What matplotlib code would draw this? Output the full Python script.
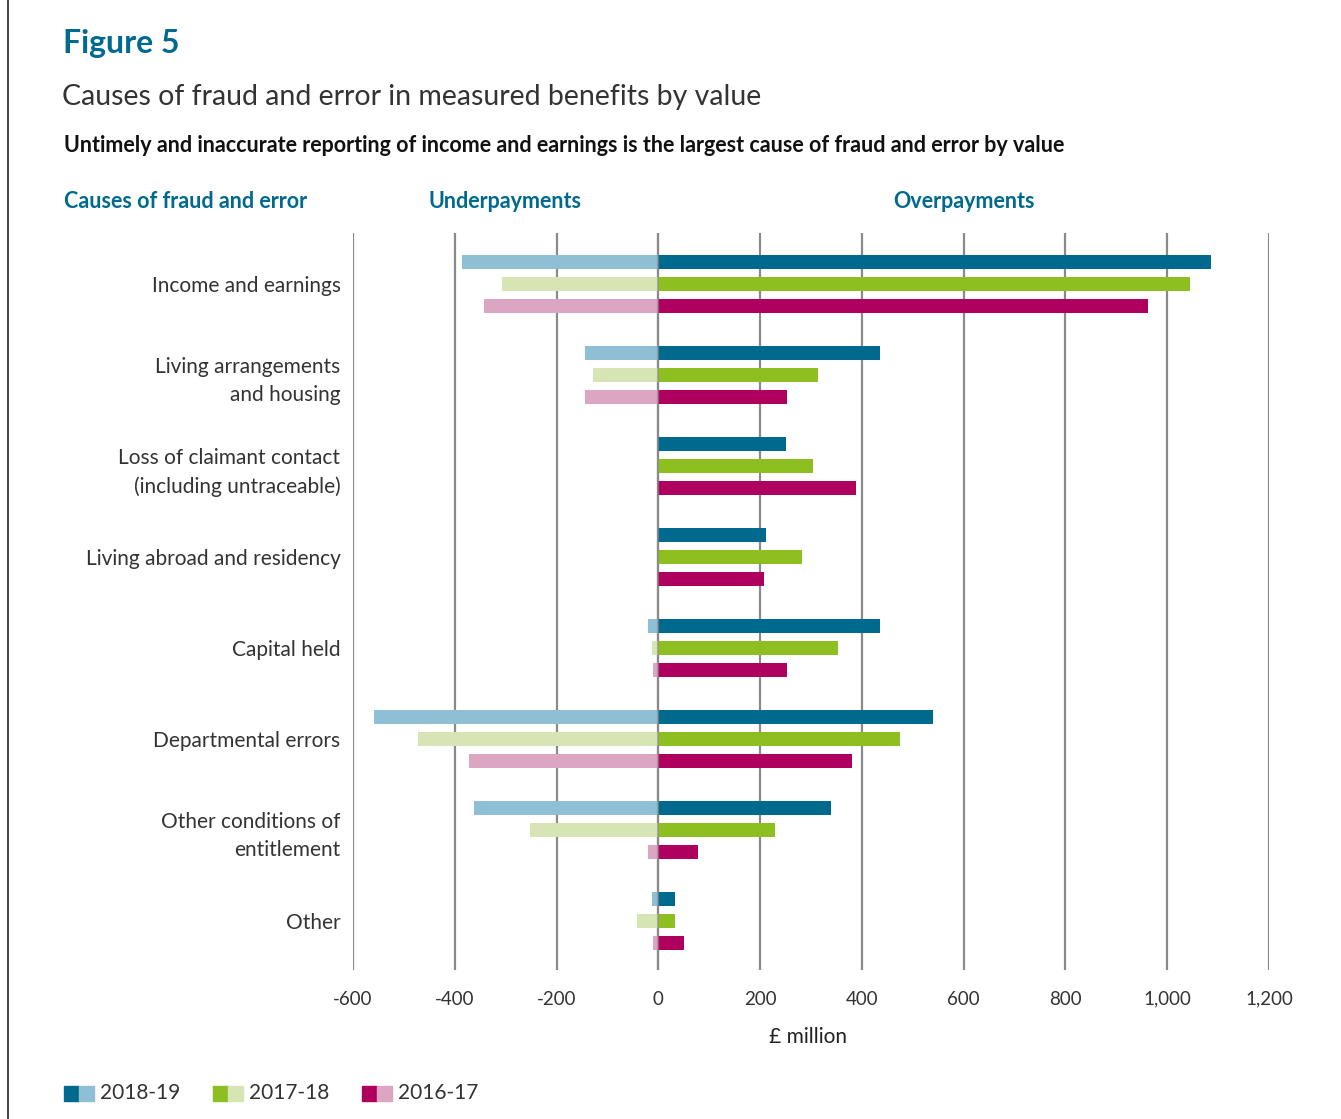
import numpy as np
import matplotlib
matplotlib.use('Agg')
import matplotlib.pyplot as plt
from matplotlib.patches import Rectangle
from matplotlib.lines import Line2D
from matplotlib.ticker import FuncFormatter

plt.rcParams['font.family'] = ['Lato', 'DejaVu Sans']

causes = ['Income and earnings', 'Living arrangements\nand housing',
          'Loss of claimant contact\n(including untraceable)', 'Living abroad and residency',
          'Capital held', 'Departmental errors', 'Other conditions of\nentitlement', 'Other']
years = ['2018-19', '2017-18', '2016-17']

# £ million, overpayments (positive) and underpayments (negative)
over_1819 = [1087, 436, 250, 212, 436, 540, 340, 33]
over_1718 = [1045, 314, 303, 283, 354, 474, 230, 33]
over_1617 = [962, 252, 389, 208, 252, 381, 77, 51]
under_1819 = [-385, -144, 0, 0, -20, -559, -362, -13]
under_1718 = [-308, -128, 0, 0, -13, -473, -252, -42]
under_1617 = [-342, -144, 0, 0, -10, -372, -20, -10]

dark = ['#006a8e', '#8cbf1f', '#b0005f']
light = ['#8fbfd4', '#d7e5b5', '#dca6c2']

overs = [over_1819, over_1718, over_1617]
unders = [under_1819, under_1718, under_1617]

fig = plt.figure(figsize=(13.41, 11.19), dpi=100)
ax = fig.add_axes([353 / 1341, 1 - 970 / 1119, (1269 - 353) / 1341, (970 - 233) / 1119])

y = np.arange(len(causes))
offs = [-0.242, 0, 0.242]
h = 0.16
for i in range(3):
    ax.barh(y + offs[i], unders[i], height=h, color=light[i], zorder=2)
    ax.barh(y + offs[i], overs[i], height=h, color=dark[i], zorder=2)

ax.set_xlim(-600, 1200)
ax.set_ylim(7.54, -0.56)
xt = np.arange(-600, 1201, 200)
ax.set_xticks(xt)
ax.xaxis.set_major_formatter(FuncFormatter(lambda v, p: f'{int(v):,}'))
for v in xt:
    ax.axvline(v, color='#8a8a8a', lw=1.6, zorder=1)
ax.axvline(0, color='#8a8a8a', lw=1.6, zorder=3, alpha=0.6)
for s in ax.spines.values():
    s.set_visible(False)
ax.tick_params(axis='x', length=0, pad=15, labelsize=13.5, labelcolor='#333333')
ax.set_yticks(y)
ax.set_yticklabels(causes, fontsize=15, color='#333333', linespacing=1.5)
ax.tick_params(axis='y', length=0, pad=9)
for lab in ax.get_yticklabels():
    lab.set_horizontalalignment('right')
ax.set_xlabel('£ million', fontsize=15, color='#222222')
ax.xaxis.set_label_coords((808 - 353) / (1269 - 353), -(1037 - 970) / (970 - 233))
ax.xaxis.label.set_va('center')

teal = '#006a8e'
fig.text(63 / 1341, 1 - 43 / 1119, 'Figure 5', fontsize=23, fontweight='bold', color=teal, va='center')
fig.text(62 / 1341, 1 - 97 / 1119, 'Causes of fraud and error in measured benefits by value',
         fontsize=20.5, color='#333333', va='center')
fig.text(64 / 1341, 1 - 146 / 1119,
         'Untimely and inaccurate reporting of income and earnings is the largest cause of fraud and error by value',
         fontsize=15.5, fontweight='bold', color='#111111', va='center')
for xx, txt in [(64, 'Causes of fraud and error'), (428, 'Underpayments'), (893, 'Overpayments')]:
    fig.text(xx / 1341, 1 - 201 / 1119, txt, fontsize=15.5, fontweight='bold', color=teal, va='center')

# legend
for x0, d, l, yr in [(64, dark[0], light[0], years[0]), (213, dark[1], light[1], years[1]),
                     (362, dark[2], light[2], years[2])]:
    fig.add_artist(Rectangle((x0 / 1341, 1 - 1101 / 1119), 15 / 1341, 15 / 1119,
                             transform=fig.transFigure, color=d))
    fig.add_artist(Rectangle(((x0 + 15) / 1341, 1 - 1101 / 1119), 15 / 1341, 15 / 1119,
                             transform=fig.transFigure, color=l))
    fig.text((x0 + 36) / 1341, 1 - 1093 / 1119, yr, fontsize=15, color='#333333', va='center')

fig.add_artist(Line2D([8 / 1341, 8 / 1341], [0, 1], transform=fig.transFigure, color='#222222', lw=1.2))

fig.savefig('out.png', dpi=100, facecolor='white')
